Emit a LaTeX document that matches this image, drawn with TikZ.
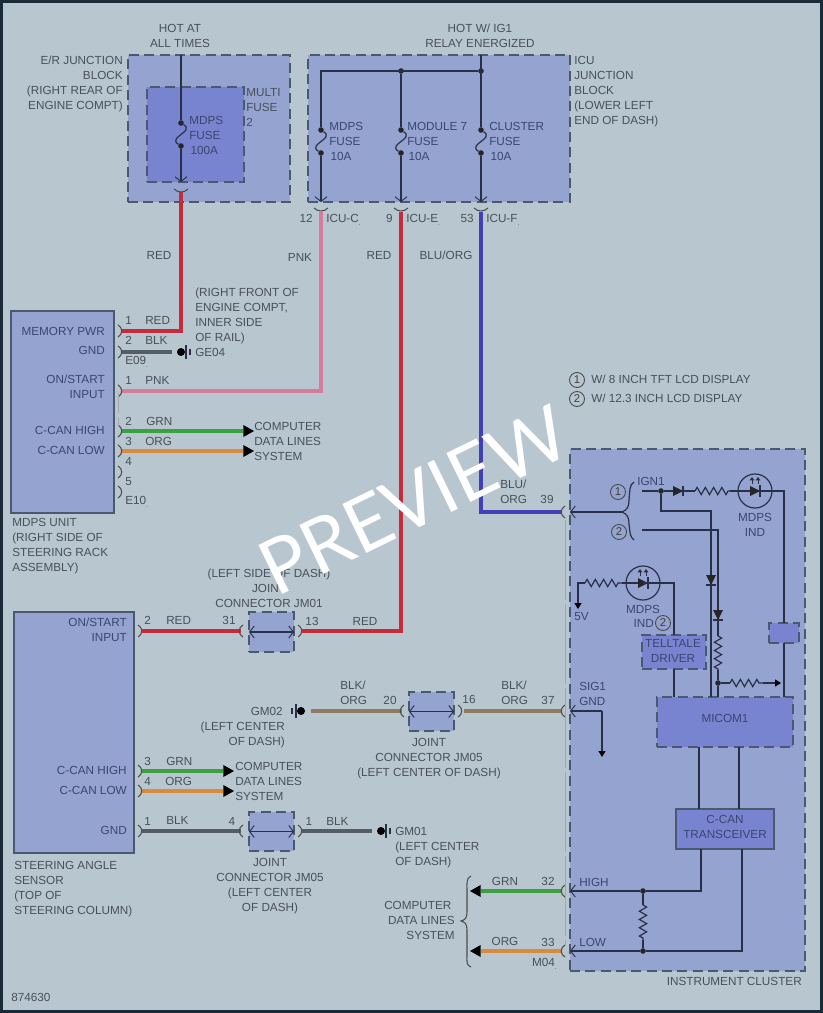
\documentclass[tikz,border=0pt]{standalone}
\usepackage{fontspec}
\setmainfont{Liberation Sans}
\newfontfamily\markfont{Lato}
\usetikzlibrary{arrows.meta,decorations.pathmorphing}
\definecolor{framec}{RGB}{26,42,54}
\definecolor{bgc}{RGB}{184,199,207}
\definecolor{blockc}{RGB}{149,163,208}
\definecolor{coverc}{RGB}{120,132,208}
\definecolor{edgec}{RGB}{74,88,112}
\definecolor{inkc}{RGB}{72,80,88}
\definecolor{inkin}{RGB}{58,70,112}
\definecolor{linec}{RGB}{40,48,72}
\newcommand{\lblsize}{\fontsize{8.8pt}{11.25pt}\selectfont}
\tikzset{
  lbl/.style={inner sep=0pt,font=\lblsize,text=inkc},
  lblw/.style={lbl,anchor=north west,align=left},
  lble/.style={lbl,anchor=north east,align=right},
  lblc/.style={lbl,anchor=north,align=center},
  inbox/.style={text=inkin},
  blockbox/.style={draw=edgec,fill=blockc,line width=0.9pt,dash pattern=on 7.5pt off 4pt,inner sep=0pt,outer sep=0pt,anchor=north west},
  coverbox/.style={blockbox,fill=coverc},
  unitbox/.style={draw=edgec,fill=blockc,line width=0.9pt,inner sep=0pt,outer sep=0pt,anchor=north west},
  dot/.style={circle,fill=black!85,inner sep=0pt,minimum size=4.2pt},
  gnddot/.style={circle,fill=black,inner sep=0pt,minimum size=6pt},
  inw/.style={draw=linec,line width=0.9pt},
  pinline/.style={draw=black!70,line width=0.8pt},
  wirered/.style={draw={rgb,255:red,196;green,44;blue,58},line width=2.4pt},
  wirepnk/.style={draw={rgb,255:red,214;green,124;blue,154},line width=2.4pt},
  wireblu/.style={draw={rgb,255:red,66;green,62;blue,184},line width=2.4pt},
  wiregrn/.style={draw={rgb,255:red,62;green,158;blue,66},line width=2.4pt},
  wireorg/.style={draw={rgb,255:red,216;green,138;blue,62},line width=2.4pt},
  wireblk/.style={draw={rgb,255:red,84;green,92;blue,100},line width=2.4pt},
  wirebo/.style={draw={rgb,255:red,143;green,122;blue,98},line width=2.4pt},
  bigtip/.style={-{Triangle[length=8pt,width=9pt,color=black,line width=0pt]}},
  barb/.style={-{Straight Barb[length=3.5pt,width=9pt,line width=0.7pt]}},
  tinytip/.style={-{Triangle[length=4.5pt,width=5.5pt,color=black,line width=0pt]}},
  resist/.style={inw,decorate,decoration={zigzag,segment length=6.2pt,amplitude=2.7pt}},
  ringmark/.style={circle,draw=black!70,line width=0.7pt,inner sep=0pt,minimum size=11.25pt,font=\fontsize{8.5pt}{9pt}\selectfont,text=black!75},
  pics/diode/.style={code={
    \fill[black!85] (-5,-5) -- (5,0) -- (-5,5) -- cycle;
    \draw[inw] (5,-5) -- (5,5);}},
  pics/lamp/.style={code={
    \draw[inw] (0,0) circle (17);
    \fill[black!85] (-5,-5) -- (5,0) -- (-5,5) -- cycle;
    \draw[inw] (5,-6) -- (5,6);
    \draw[inw,line width=0.7pt,-{Triangle[length=2.5pt,width=3.5pt]}] (-3,7) -- (-3,14);
    \draw[inw,line width=0.7pt,-{Triangle[length=2.5pt,width=3.5pt]}] (3,7) -- (3,14);}},
  pics/gndmark/.style={code={
    \draw[inw] (5,-7) -- (5,7);
    \draw[inw] (9,-3) -- (9,3);}}
}
\begin{document}
\begin{tikzpicture}[x=0.75pt,y=0.75pt,yscale=-1,xscale=1]
\useasboundingbox (0,0) rectangle (823,1013);
\fill[framec] (0,0) rectangle (823,1013);
\fill[bgc] (3,3) rectangle (820,1010);

%Shape: blocks
\node[blockbox,minimum width=121.5pt,minimum height=110.25pt] (erblock) at (128,55) {};
\node[coverbox,minimum width=72.75pt,minimum height=71.25pt] (erfuse) at (147,87) {};
\node[blockbox,minimum width=196.5pt,minimum height=110.25pt] (icublock) at (308,55) {};
\node[unitbox,minimum width=77.25pt,minimum height=151.5pt] (mdps) at (11,311) {};
\node[unitbox,minimum width=90pt,minimum height=180.75pt] (angle) at (14,612) {};
\node[blockbox,minimum width=176.25pt,minimum height=391.5pt] (cluster) at (570,449) {};
\node[blockbox,minimum width=33.75pt,minimum height=30pt] (jm1) at (249,612) {};
\node[blockbox,minimum width=33.75pt,minimum height=29.25pt] (jm5a) at (409,692) {};
\node[blockbox,minimum width=33.75pt,minimum height=29.25pt] (jm5b) at (249,812) {};
\node[blockbox,fill=coverc,minimum width=48pt,minimum height=25.5pt] (driver) at (642,635) {};
\node[blockbox,fill=coverc,minimum width=22.5pt,minimum height=15pt] (icebox) at (769,623) {};
\node[coverbox,minimum width=102pt,minimum height=37.5pt] (micom) at (657,697) {};
\node[unitbox,fill=coverc,minimum width=73.5pt,minimum height=30pt] (ccan) at (676,809) {};

%Fuses
\foreach \fname/\fx/\fa/\fb in {ferf/181/123/146,fic1/321/130/153,fic2/401/130/153,fic3/481/130/153} {
  \node[dot] (\fname-a) at (\fx,\fa) {};
  \node[dot] (\fname-b) at (\fx,\fb) {};
  \draw[inw] (\fname-a) .. controls +(14,9) and +(-14,-9) .. (\fname-b);
}

%Coordinates of the pins
\coordinate (ertop) at (181,55);
\coordinate (erend) at (181,182);
\coordinate (erpin) at (181,192);
\coordinate (bus) at (321,71);
\node[dot] (bus2) at (401,71) {};
\node[dot] (bus3) at (481,71) {};
\coordinate (ictop) at (481,55);
\coordinate (icend1) at (321,202);
\coordinate (icend2) at (401,202);
\coordinate (icend3) at (481,202);
\coordinate (icpin1) at (321,212);
\coordinate (icpin2) at (401,212);
\coordinate (icpin3) at (481,212);
\coordinate (mp1) at (122,331);
\coordinate (mp2) at (122,352);
\coordinate (mp3) at (122,391);
\coordinate (mp4) at (122,431);
\coordinate (mp5) at (122,451);
\coordinate (aw1) at (142,631);
\coordinate (aw2) at (142,771);
\coordinate (aw3) at (142,791);
\coordinate (aw4) at (142,831);
\coordinate (j1l) at (241,631);
\coordinate (j1r) at (302,631);
\coordinate (j2l) at (402,711);
\coordinate (j2r) at (464,711);
\coordinate (j3l) at (241,831);
\coordinate (j3r) at (302,831);
\coordinate (c39) at (561,512);
\coordinate (c37) at (561,711);
\coordinate (c32) at (561,891);
\coordinate (c33) at (561,951);
\coordinate (hi1) at (254,431);
\coordinate (lo1) at (254,451);
\coordinate (hi2) at (234,771);
\coordinate (lo2) at (234,791);
\coordinate (hi3) at (470,891);
\coordinate (lo3) at (470,951);

%Curve Lines: harness
\draw[wirered] (erpin) |- (mp1);
\draw[wirepnk] (icpin1) |- (mp3);
\draw[wirered] (icpin2) |- (j1r);
\draw[wireblu] (icpin3) |- (c39);
\draw[wirered] (aw1) -- (j1l);
\draw[wiregrn,bigtip] (mp4) -- (hi1);
\draw[wireorg,bigtip] (mp5) -- (lo1);
\draw[wiregrn,bigtip] (aw2) -- (hi2);
\draw[wireorg,bigtip] (aw3) -- (lo2);
\draw[wireblk] (aw4) -- (j3l);
\draw[wirebo] (j2r) -- (c37);
\draw[wiregrn,bigtip] (c32) -- (hi3);
\draw[wireorg,bigtip] (c33) -- (lo3);

%Grounds
\node[gnddot] (ge04) at (181,352) {};
\path (ge04) pic {gndmark};
\coordinate (ge04w) at (172,352);
\draw[wireblk] (mp2) -- (ge04w);
\node[gnddot] (gm02) at (301,711) {};
\path (gm02) pic[xscale=-1] {gndmark};
\coordinate (gm02w) at (311,711);
\draw[wirebo] (gm02w) -- (j2l);
\node[gnddot] (gm01) at (381,831) {};
\path (gm01) pic {gndmark};
\coordinate (gm01w) at (372,831);
\draw[wireblk] (j3r) -- (gm01w);

%Curve Lines: pin marks
\foreach \py in {331,352,391,431,451,472,492} {
  \draw[pinline] (118,\py-6) .. controls (123,\py-3) and (123,\py+3) .. (118,\py+6);
}
\foreach \py in {631,771,791,831} {
  \draw[pinline] (138,\py-6) .. controls (143,\py-3) and (143,\py+3) .. (138,\py+6);
}
\foreach \px/\py in {300/631,300/831,460/711} {
  \draw[pinline] (\px-2,\py-6) .. controls (\px+3,\py-3) and (\px+3,\py+3) .. (\px-2,\py+6);
}
\foreach \px/\py in {243/631,243/831,404/711,565/512,565/711,565/891,565/951} {
  \draw[pinline] (\px,\py-6) .. controls (\px-5,\py-3) and (\px-5,\py+3) .. (\px,\py+6);
}
\foreach \px/\py in {181/189,321/208,401/208,481/208} {
  \draw[pinline] (\px-7,\py) .. controls (\px-3,\py+4) and (\px+3,\py+4) .. (\px+7,\py);
}
\draw[black!35,line width=0.6pt,dash pattern=on 15pt off 4pt] (118,393) -- (118,426);
\draw[black!35,line width=0.6pt,dash pattern=on 60pt off 3pt] (565,520) -- (565,945);

%Curve Lines: inside the fuse blocks
\draw[inw] (ertop) -- (ferf-a);
\draw[inw,barb] (ferf-b) -- (erend);
\draw[inw] (ictop) -- (fic3-a);
\draw[inw] (fic1-a) -- (bus) -- (bus3);
\draw[inw] (bus2) -- (fic2-a);
\draw[inw,barb] (fic1-b) -- (icend1);
\draw[inw,barb] (fic2-b) -- (icend2);
\draw[inw,barb] (fic3-b) -- (icend3);

%Curve Lines: joints
\foreach \jname in {jm1,jm5a,jm5b} {
  \draw[inw,{Straight Barb[length=3.5pt,width=9pt,line width=0.7pt]}-{Straight Barb[length=3.5pt,width=9pt,line width=0.7pt]}] (\jname.west) -- (\jname.east);
}

%Curve Lines: cluster
\coordinate (brtip) at (622,512);
\coordinate (cl39) at (570,512);
\coordinate (cl37) at (570,711);
\coordinate (cl32) at (570,891);
\coordinate (cl33) at (570,951);
\draw[inw,barb] (brtip) -- (cl39);
\draw[inw] (634,482) .. controls (629,485) and (630,491) .. (629,500) .. controls (629,507) and (627,510) .. (brtip) .. controls (627,514) and (629,517) .. (629,524) .. controls (630,533) and (630,537) .. (634,540);
\coordinate (ignst) at (642,491);
\node[dot] (ignd) at (661,491) {};
\coordinate (ign2st) at (642,530);
\coordinate (dio1) at (678,491);
\coordinate (res1a) at (695,491);
\coordinate (res1b) at (730,491);
\coordinate (lamp1) at (755,491);
\coordinate (lamp1r) at (784,491);
\draw[inw] (ignst) -- (ignd) -- (dio1) -- (res1a);
\draw[resist] (res1a) -- (res1b);
\draw[inw] (res1b) -- (lamp1) -- (lamp1r) -- (icebox.north -| lamp1r);
\draw[inw] (icebox.south -| lamp1r) -- (micom.north -| lamp1r);
\path (dio1) pic {diode};
\path (lamp1) pic {lamp};
\coordinate (bend) at (711,511);
\coordinate (dio2) at (711,580);
\coordinate (dio3) at (718,615);
\coordinate (res2a) at (718,636);
\coordinate (res2b) at (718,670);
\node[dot] (resd) at (718,683) {};
\draw[inw] (ignd) |- (bend) -- (dio2) -- (micom.north -| dio2);
\draw[inw] (ign2st) -- (dio3 |- ign2st) -- (dio3) -- (res2a);
\draw[resist] (res2a) -- (res2b);
\draw[inw] (res2b) -- (resd) -- (micom.north -| resd);
\path (dio2) pic[rotate=-90] {diode};
\path (dio3) pic[rotate=-90] {diode};
\coordinate (res3a) at (730,683);
\coordinate (res3b) at (763,683);
\coordinate (res3e) at (781,683);
\draw[inw] (resd) -- (res3a);
\draw[resist] (res3a) -- (res3b);
\draw[inw,tinytip] (res3b) -- (res3e);
\coordinate (lamp2) at (643,583);
\coordinate (res4a) at (585,583);
\coordinate (res4b) at (622,583);
\coordinate (corn5v) at (578,583);
\coordinate (end5v) at (578,609);
\draw[inw,tinytip] (res4a) -- (corn5v) -- (end5v);
\draw[resist] (res4a) -- (res4b);
\draw[inw] (res4b) -- (lamp2);
\path (lamp2) pic {lamp};
\draw[inw] (lamp2) -| (driver.north);
\draw[inw] (driver.south) -- (micom.north -| driver.south);
\coordinate (sigc) at (602,711);
\coordinate (sige) at (602,757);
\draw[inw,barb] (sigc) -- (cl37);
\draw[inw,tinytip] (sigc) -- (sige);
\coordinate (busa) at (699,809);
\coordinate (busb) at (739,809);
\draw[inw] (micom.south -| busa) -- (ccan.north -| busa);
\draw[inw] (micom.south -| busb) -- (ccan.north -| busb);
\node[dot] (nodeh) at (643,891) {};
\node[dot] (nodel) at (643,951) {};
\coordinate (res5a) at (643,905);
\coordinate (res5b) at (643,940);
\coordinate (hiup) at (701,849);
\coordinate (loup) at (742,849);
\draw[inw,barb] (nodeh) -- (cl32);
\draw[inw,barb] (nodel) -- (cl33);
\draw[inw] (nodeh) -- (res5a);
\draw[resist] (res5a) -- (res5b);
\draw[inw] (res5b) -- (nodel);
\draw[inw] (nodeh) -| (hiup);
\draw[inw] (nodel) -| (loup);
\draw[pinline] (471,876) .. controls (466,878) and (467,884) .. (467,890) -- (467,912) .. controls (467,918) and (465,920) .. (461,921) .. controls (465,922) and (467,924) .. (467,930) -- (467,955) .. controls (467,962) and (466,965) .. (471,967);

% Text Node
\node[lblc] (t1) at (180,24) {HOT AT\\ALL TIMES};
\node[lblc] (t2) at (480,24) {HOT W/ IG1\\RELAY ENERGIZED};
\node[lble] (t3) at (123,56) {E/R JUNCTION\\BLOCK\\(RIGHT REAR OF\\ENGINE COMPT)};
\node[lblw] (t4) at (246,88) {MULTI\\FUSE\\2};
\node[lblw,inbox] (t5) at (189,116) {MDPS\\FUSE\\\hspace{1pt}100A};
\node[lblw,inbox] (t6) at (329,122) {MDPS\\FUSE\\\hspace{1pt}10A};
\node[lblw,inbox] (t7) at (407,122) {MODULE 7\\FUSE\\\hspace{1pt}10A};
\node[lblw,inbox] (t8) at (489,122) {CLUSTER\\FUSE\\\hspace{1pt}10A};
\node[lblw] (t9) at (574,56) {ICU\\JUNCTION\\BLOCK\\(LOWER LEFT\\END OF DASH)};
\node[lble] (t10) at (313,214) {12};
\node[lblw] (t11) at (326,214) {ICU-C\raisebox{-2pt}{\tiny.}};
\node[lble] (t12) at (393,214) {9};
\node[lblw] (t13) at (406,214) {ICU-E\raisebox{-2pt}{\tiny.}};
\node[lble] (t14) at (474,214) {53};
\node[lblw] (t15) at (486,214) {ICU-F\raisebox{-2pt}{\tiny.}};
\node[lblc] (t16) at (159,251) {RED};
\node[lblc] (t17) at (300,253) {PNK};
\node[lblc] (t18) at (379,251) {RED};
\node[lblc] (t19) at (446,251) {BLU/ORG};
\node[lblw] (t20) at (195,288) {(RIGHT FRONT OF\\ENGINE COMPT,\\INNER SIDE\\OF RAIL)};

\node[lble,inbox] (t21) at (105,327) {MEMORY PWR};
\node[lble,inbox] (t22) at (105,346) {GND};
\node[lble,inbox] (t23) at (105,375) {ON/START\\INPUT};
\node[lble,inbox] (t24) at (105,426) {C-CAN HIGH};
\node[lble,inbox] (t25) at (105,446) {C-CAN LOW};
\node[lblw] (t26) at (12,518) {MDPS UNIT\\(RIGHT SIDE OF\\STEERING RACK\\ASSEMBLY)};
\node[lblw] (t27) at (125,316) {1};
\node[lblw] (t28) at (145,316) {RED};
\node[lblw] (t29) at (125,336) {2};
\node[lblw] (t30) at (145,336) {BLK};
\node[lblw] (t31) at (125,356) {E09\raisebox{-2pt}{\tiny.}};
\node[lblw] (t32) at (195,348) {GE04};
\node[lblw] (t33) at (125,376) {1};
\node[lblw] (t34) at (145,376) {PNK};
\node[lblw] (t35) at (125,417) {2};
\node[lblw] (t36) at (146,417) {GRN};
\node[lblw] (t37) at (125,437) {3};
\node[lblw] (t38) at (145,437) {ORG};
\node[lblw] (t39) at (125,457) {4};
\node[lblw] (t40) at (125,477) {5};
\node[lblw] (t41) at (125,496) {E10\raisebox{-2pt}{\tiny.}};
\node[lblw] (t42) at (254,422) {COMPUTER\\DATA LINES\\SYSTEM};

\node[lblc] (t43) at (269,569) {(LEFT SIDE OF DASH)\\JOINT\\CONNECTOR JM01};
\node[lble,inbox] (t44) at (127,618) {ON/START\\INPUT};
\node[lble,inbox] (t45) at (127,766) {C-CAN HIGH};
\node[lble,inbox] (t46) at (127,786) {C-CAN LOW};
\node[lble,inbox] (t47) at (127,826) {GND};
\node[lblw] (t48) at (14,861) {STEERING ANGLE\\SENSOR\\(TOP OF\\STEERING COLUMN)};
\node[lblw] (t49) at (144,616) {2};
\node[lblw] (t50) at (166,616) {RED};
\node[lblc] (t51) at (229,616) {31};
\node[lblc] (t52) at (312,617) {13};
\node[lblc] (t53) at (365,617) {RED};
\node[lblw] (t54) at (144,757) {3};
\node[lblw] (t55) at (166,757) {GRN};
\node[lblw] (t56) at (144,777) {4};
\node[lblw] (t57) at (165,777) {ORG};
\node[lblw] (t58) at (144,817) {1};
\node[lblw] (t59) at (166,816) {BLK};
\node[lblc] (t60) at (232,817) {4};
\node[lblc] (t61) at (309,817) {1};
\node[lblw] (t62) at (326,817) {BLK};
\node[lblw] (t63) at (235,762) {COMPUTER\\DATA LINES\\SYSTEM};
\node[lblc] (t64) at (270,858) {JOINT\\CONNECTOR JM05\\(LEFT CENTER\\OF DASH)};
\node[lblw] (t65) at (395,827) {GM01\\(LEFT CENTER\\OF DASH)};
\node[lble] (t66) at (283,707) {GM02};
\node[lble] (t67) at (285,722) {(LEFT CENTER\\OF DASH)};
\node[lblw] (t68) at (340,681) {BLK/\\ORG};
\node[lblc] (t69) at (390,696) {20};
\node[lblc] (t70) at (469,695) {16};
\node[lblw] (t71) at (501,681) {BLK/\\ORG};
\node[lblc] (t72) at (548,696) {37};
\node[lblc] (t73) at (429,738) {JOINT\\CONNECTOR JM05\\(LEFT CENTER OF DASH)};
\node[lblw] (t74) at (500,480) {BLU/\\ORG};
\node[lblc] (t75) at (547,495) {39};

\node[ringmark] (m1) at (577,380) {1};
\node[ringmark] (m2) at (577,399) {2};
\node[lblw] (t76) at (591,375) {W/ 8 INCH TFT LCD DISPLAY};
\node[lblw] (t77) at (591,394) {W/ 12.3 INCH LCD DISPLAY};
\node[ringmark] (m3) at (618,492) {1};
\node[ringmark] (m4) at (619,532) {2};
\node[ringmark] (m5) at (663,623) {2};
\node[lblw,inbox] (t78) at (637,477) {IGN1};
\node[lblc,inbox] (t79) at (755,513) {MDPS\\IND};
\node[lblc,inbox] (t80) at (643,605) {MDPS};
\node[lble,inbox] (t81) at (654,619) {IND};
\node[lblw,inbox] (t82) at (574,612) {5V};
\node[lblc,inbox] (t83) at (673,639) {TELLTALE\\DRIVER};
\node[lbl,inbox] (t84) at (725,718) {MICOM1};
\node[lblc,inbox] (t85) at (725,815) {C-CAN\\TRANSCEIVER};
\node[lblw,inbox] (t86) at (579,682) {SIG1\\GND};
\node[lblw,inbox] (t87) at (579,878) {HIGH};
\node[lblw,inbox] (t88) at (579,938) {LOW};
\node[lblc] (t89) at (505,877) {GRN};
\node[lblc] (t90) at (548,877) {32};
\node[lblc] (t91) at (505,937) {ORG};
\node[lblc] (t92) at (548,938) {33};
\node[lble] (t93) at (557,958) {M04\raisebox{-2pt}{\tiny.}};
\node[lblw] (t94) at (384,901) {COMPUTER};
\node[lble] (t95) at (455,916) {DATA LINES\\SYSTEM};
\node[lble] (t96) at (802,977) {INSTRUMENT CLUSTER};
\node[lblw] (t97) at (11,993) {874630};

% Text Node
\node[anchor=base west,inner sep=0pt,rotate=26,text=white,font=\markfont\fontsize{57pt}{57pt}\selectfont] (preview) at (276,598) {PREVIEW};
\end{tikzpicture}
\end{document}
